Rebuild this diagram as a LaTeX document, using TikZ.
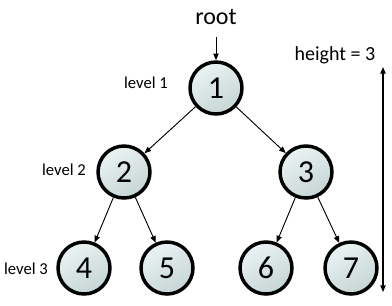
\documentclass[tikz,border=0pt]{standalone}
\usepackage{fontspec}
\setmainfont{Carlito}
\usetikzlibrary{arrows.meta}
\definecolor{nlight}{HTML}{EAF3F3}
\definecolor{ndark}{HTML}{C6D5D5}
\begin{document}
\begin{tikzpicture}[x=0.75pt,y=-0.75pt,
  tnode/.style={circle,draw=black,line width=2.6pt,minimum size=39pt,inner sep=0pt,
    top color=nlight,bottom color=ndark,shading angle=30,font=\fontsize{24}{24}\selectfont},
  edge/.style={line width=0.7pt,-{Triangle[length=5pt,width=4pt]}},
  lbl/.style={font=\fontsize{12.5}{13}\selectfont,inner sep=0pt}]
\useasboundingbox (0,0) rectangle (392,305);
\node[font=\fontsize{18}{18}\selectfont,inner sep=0pt] (root) at (216,17) {root};
\node[tnode] (n1) at (216,88) {1};
\node[tnode] (n2) at (124,172) {2};
\node[tnode] (n3) at (306,172) {3};
\node[tnode] (n4) at (84,268) {4};
\node[tnode] (n5) at (167,268) {5};
\node[tnode] (n6) at (266,268) {6};
\node[tnode] (n7) at (351,268) {7};
\coordinate (rs) at (216,37);
\draw[edge] (rs) -- (n1);
\draw[edge] (n1) -- (n2);
\draw[edge] (n1) -- (n3);
\draw[edge] (n2) -- (n4);
\draw[edge] (n2) -- (n5);
\draw[edge] (n3) -- (n6);
\draw[edge] (n3) -- (n7);
\node[lbl] (l1) at (146,83) {level 1};
\node[lbl] (l2) at (64,170) {level 2};
\node[lbl] (l3) at (26,269) {level 3};
\node[font=\fontsize{15}{15}\selectfont,inner sep=0pt] (h) at (335,55) {height = 3};
\coordinate (ht) at (383,67);
\coordinate (hb) at (383,292);
\draw[line width=0.9pt,{Triangle[length=5pt,width=4pt]}-{Triangle[length=5pt,width=4pt]}] (ht) -- (hb);
\end{tikzpicture}
\end{document}
